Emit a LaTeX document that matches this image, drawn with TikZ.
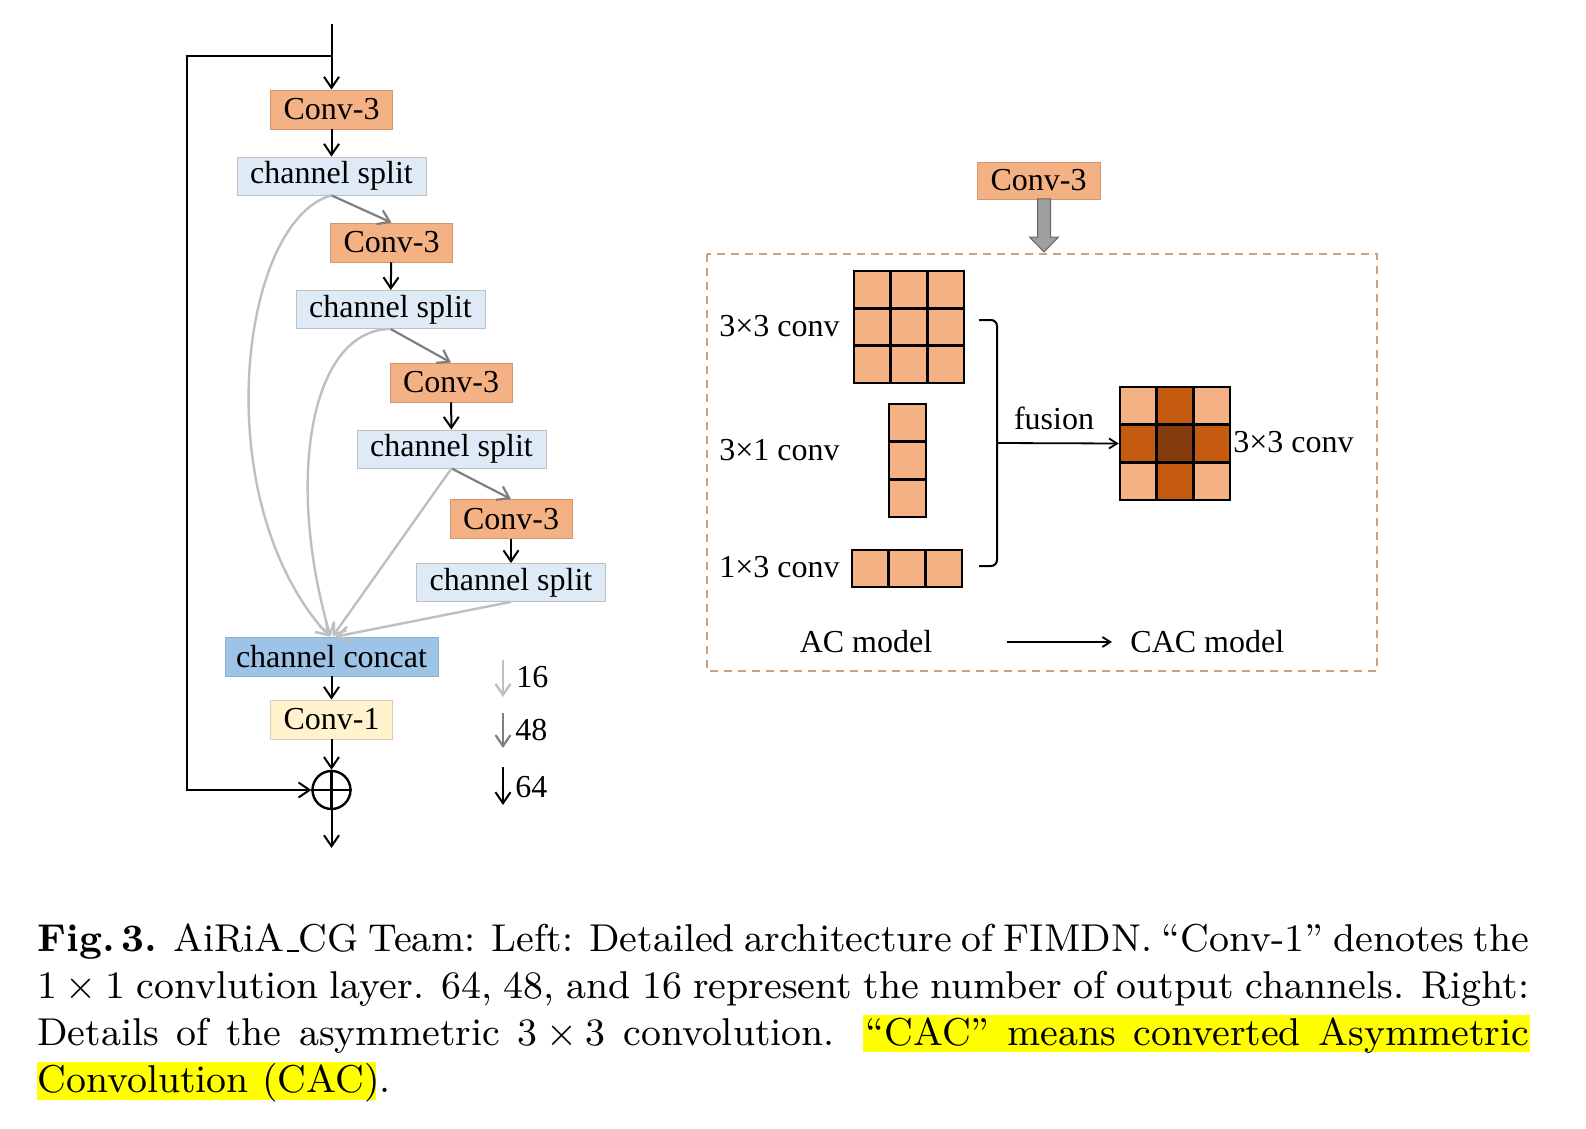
\documentclass[tikz,border=0pt]{standalone}
\usepackage{fontspec}
\usetikzlibrary{arrows.meta}
\newfontfamily\diagfont{Liberation Serif}
\newfontfamily\capfont{lmroman9}[Extension=.otf, UprightFont=*-regular, BoldFont=*-bold]
\newcommand{\capus}{\leavevmode\kern0.06em\rule[-0.02em]{0.3em}{0.04em}}
\definecolor{convor}{HTML}{F4B183}
\definecolor{midor}{HTML}{C55A11}
\definecolor{darkor}{HTML}{843C0C}
\definecolor{splitbl}{HTML}{DEEBF7}
\definecolor{concatbl}{HTML}{9DC3E6}
\definecolor{onecr}{HTML}{FFF2CC}
\definecolor{dashbr}{HTML}{C9A183}
\definecolor{lgray}{HTML}{BFBFBF}
\definecolor{dgray}{HTML}{7F7F7F}
\definecolor{hlyel}{HTML}{FFFF00}
\tikzset{
    lbl/.style={inner sep=0pt, font=\diagfont\fontsize{16}{19}\selectfont},
    box/.style={lbl, minimum height=19.5pt},
    conv/.style={box, fill=convor, draw=convor!85!black, line width=0.4pt, minimum width=61pt},
    split/.style={box, fill=splitbl, draw=lgray, line width=0.4pt, minimum width=94.5pt, minimum height=19pt},
    concat/.style={box, fill=concatbl, draw=concatbl!90!black, line width=0.4pt, minimum width=106.5pt},
    onebox/.style={box, fill=onecr, draw=onecr!85!black, line width=0.4pt, minimum width=61pt},
    arr/.style={-{Straight Barb[length=5.5pt,width=7.5pt]}, line width=1pt},
    garr/.style={arr, draw=dgray, line width=1.1pt},
    larr/.style={arr, draw=lgray, line width=1.2pt},
    cell/.style={draw=black, line width=1.3pt},
}
\begin{document}
\begin{tikzpicture}[x=0.5pt, y=-0.5pt]
    \useasboundingbox (0,0) rectangle (1586,1129);

    \node[conv] (c1) at (331.5,109.5) {Conv-3};
    \node[split] (s1) at (331.5,176) {channel split};
    \node[conv] (c2) at (391.5,242.5) {Conv-3};
    \node[split] (s2) at (390.5,309.5) {channel split};
    \node[conv] (c3) at (451,382.5) {Conv-3};
    \node[split] (s3) at (451.5,449) {channel split};
    \node[conv] (c4) at (511,519) {Conv-3};
    \node[split] (s4) at (511,582.5) {channel split};
    \node[concat] (cat) at (331.5,656.5) {channel concat};
    \node[onebox] (one) at (331.5,719.5) {Conv-1};
    \node[draw, circle, line width=1.2pt, minimum size=19pt, inner sep=0pt] (add) at (331.5,790) {};

    \coordinate (in) at (331.5,24);
    \coordinate (fb) at (331.5,56);
    \coordinate (fbl) at (187,56);
    \coordinate (out) at (331.5,848);

    \draw[line width=1pt] (in) -- (fb);
    \draw[arr] (fb) -- (c1);
    \draw[arr] (fb) -- (fbl) |- (add.west);
    \draw[arr] (c1) -- (s1);
    \draw[arr] (c2) -- (s2);
    \draw[arr] (c3) -- (s3);
    \draw[arr] (c4) -- (s4);
    \draw[garr] (s1.south) -- (c2.north);
    \draw[garr] (s2.south) -- (c3.north);
    \draw[garr] (s3.south) -- (c4.north);
    \draw[larr] (s1.south) .. controls (240,220) and (205,500) .. ([xshift=-1pt]cat.north);
    \draw[larr] (s2.south) .. controls (310,330) and (285,480) .. ([xshift=-0.5pt]cat.north);
    \draw[larr] (s3.south) -- ([xshift=0.5pt]cat.north);
    \draw[larr] (s4.south) -- ([xshift=2pt]cat.north);
    \draw[arr] (cat) -- (one);
    \draw[arr] (one) -- (add.north);
    \draw[line width=1.2pt] (add.north) -- (add.south);
    \draw[line width=1.2pt] (add.west) -- (add.east);
    \draw[arr] (add.south) -- (out);

    \coordinate (k16a) at (503,660);
    \coordinate (k16b) at (503,697);
    \coordinate (k48a) at (503,713);
    \coordinate (k48b) at (503,748);
    \coordinate (k64a) at (503,767);
    \coordinate (k64b) at (503,805);
    \draw[larr] (k16a) -- (k16b);
    \draw[garr] (k48a) -- (k48b);
    \draw[arr] (k64a) -- (k64b);
    \node[lbl, anchor=west] (n16) at (516,677) {16};
    \node[lbl, anchor=west] (n48) at (515,730) {48};
    \node[lbl, anchor=west] (n64) at (515,787) {64};

    \node[conv, minimum width=61.5pt, minimum height=18.5pt] (rc) at (1038.5,180.5) {Conv-3};
    \draw[draw=gray!80!black, fill=gray!75, line width=0.5pt]
        (1037.5,199) -- (1050.5,199) -- (1050.5,237) -- (1058.5,237) -- (1044,252)
        -- (1029.5,237) -- (1037.5,237) -- cycle;
    \draw[dashbr, line width=0.8pt, dash pattern=on 4pt off 3pt] (707,254) rectangle (1377,671);

    \foreach \i in {0,1,2}
        \foreach \j in {0,1,2}
            \draw[cell, fill=convor] (854+36.67*\i,271+37.33*\j) rectangle ++(36.67,37.33);
    \foreach \j in {0,1,2}
        \draw[cell, fill=convor] (889,404+37.67*\j) rectangle ++(37,37.67);
    \foreach \i in {0,1,2}
        \draw[cell, fill=convor] (852+36.67*\i,550) rectangle ++(36.67,37);
    \foreach \i/\j/\c in {0/0/convor,1/0/midor,2/0/convor,0/1/midor,1/1/darkor,2/1/midor,0/2/convor,1/2/midor,2/2/convor}
        \draw[cell, fill=\c] (1120+36.67*\i,387+37.67*\j) rectangle ++(36.67,37.67);
    \node[draw, line width=1.3pt, minimum width=55pt, minimum height=56.5pt, inner sep=0pt] (cac) at (1175,443.5) {};

    \node[lbl, anchor=east] (l33) at (840,326) {3×3 conv};
    \node[lbl, anchor=east] (l31) at (840,450) {3×1 conv};
    \node[lbl, anchor=east] (l13) at (840,567) {1×3 conv};
    \node[lbl, anchor=west] (r33) at (1233,442) {3×3 conv};
    \node[lbl] (fus) at (1054,418) {fusion};
    \node[lbl] (acm) at (866,642) {AC model};
    \node[lbl, anchor=west] (cacm) at (1130,642) {CAC model};

    \coordinate (brk) at (997,443);
    \draw[line width=1pt, rounded corners=3pt] (979,320) -- (997,320) -- (997,566) -- (979,566);
    \draw[-{Straight Barb[length=4pt,width=5pt]}, line width=0.9pt] (brk) -- (cac.west);
    \draw[-{Straight Barb[length=4pt,width=5pt]}, line width=0.9pt, shorten <=37pt, shorten >=9pt] (acm.east) -- (cacm.west);

    \fill[hlyel] (863,1015) rectangle (1530,1052);
    \fill[hlyel] (37,1062) rectangle (376,1100);
    \node[anchor=north west, text width=746pt, align=justify, inner sep=0pt,
          font=\capfont\fontsize{19.4}{23.6}\selectfont] (cap) at (37,923)
        {\textbf{Fig.\,3.} AiRiA\capus CG Team: Left: Detailed architecture of FIMDN. “Conv-1” denotes the\linebreak
         1\kern0.222em×\kern0.222em1 convlution layer. 64, 48, and 16 represent the number of output channels. Right:\linebreak
         Details of the asymmetric 3\kern0.222em×\kern0.222em3 convolution. “CAC” means converted Asymmetric\linebreak
         Convolution (CAC).};
\end{tikzpicture}
\end{document}
